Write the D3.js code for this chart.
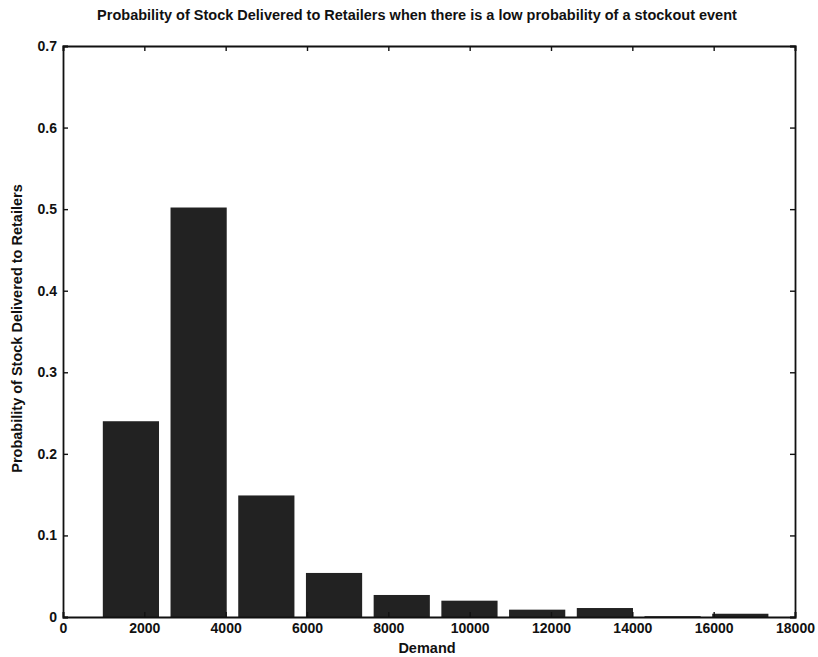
<!DOCTYPE html>
<html>
<head>
<meta charset="utf-8">
<script src="https://cdn.jsdelivr.net/npm/d3@7"></script>
<style>
  html, body { margin: 0; padding: 0; background: #fff; }
  svg { display: block; }
  text { font-family: "Liberation Sans", Arial, Helvetica, sans-serif; font-weight: bold; fill: #111; }
</style>
</head>
<body>
<svg id="chart" width="818" height="657"></svg>
<script>
// Demand bin centres and probability of stock delivered per bin
const demandBins = [1670, 3335, 5000, 6665, 8330, 9995, 11660, 13325, 14990, 16655];
const probability = [0.240, 0.502, 0.149, 0.054, 0.027, 0.020, 0.009, 0.011, 0.001, 0.004];
const xTicks = [0, 2000, 4000, 6000, 8000, 10000, 12000, 14000, 16000, 18000];
const yTicks = [0, 0.1, 0.2, 0.3, 0.4, 0.5, 0.6, 0.7];

const titleText = "Probability of Stock Delivered to Retailers when there is a low probability of a stockout event";
const xLabel = "Demand";
const yLabel = "Probability of Stock Delivered to Retailers";

const margin = { left: 63, right: 23, top: 46, bottom: 40 };
const W = 818, H = 657;
const plotW = W - margin.left - margin.right;
const plotH = H - margin.top - margin.bottom;

const svg = d3.select("#chart");
const g = svg.append("g").attr("transform", `translate(${margin.left},${margin.top})`);

const x = d3.scaleLinear().domain([0, 18000]).range([0, plotW]);
const y = d3.scaleLinear().domain([0, 0.7]).range([plotH, 0]);

// bar width as a fraction of bin spacing
const spacing = demandBins[1] - demandBins[0];
const barW = spacing * 0.83;

g.selectAll("rect.bar")
  .data(demandBins.map((d, i) => ({ c: d, v: probability[i] })))
  .join("rect")
  .attr("class", "bar")
  .attr("x", d => x(d.c - barW / 2))
  .attr("width", d => x(d.c + barW / 2) - x(d.c - barW / 2))
  .attr("y", d => y(d.v))
  .attr("height", d => y(0) - y(d.v))
  .attr("fill", "#222");

// axes with inward ticks on all four sides
const tickLen = 5;
const xAxisB = d3.axisBottom(x).tickValues(xTicks).tickSize(-tickLen).tickPadding(6).tickFormat(d3.format("d"));
const xAxisT = d3.axisTop(x).tickValues(xTicks).tickSize(-tickLen).tickFormat("");
const yAxisL = d3.axisLeft(y).tickValues(yTicks).tickSize(-tickLen).tickPadding(6).tickFormat(d => d === 0 ? "0" : d3.format(".1f")(d));
const yAxisR = d3.axisRight(y).tickValues(yTicks).tickSize(-tickLen).tickFormat("");

function style(sel) {
  sel.select(".domain").attr("stroke", "#111").attr("stroke-width", 1.8);
  sel.selectAll(".tick line").attr("stroke", "#111").attr("stroke-width", 1.4);
  sel.selectAll(".tick text").style("font-size", "14px").style("font-weight", "bold").attr("fill", "#111");
}

g.append("g").attr("transform", `translate(0,${plotH})`).call(xAxisB).call(style);
g.append("g").call(xAxisT).call(style);
g.append("g").call(yAxisL).call(style);
g.append("g").attr("transform", `translate(${plotW},0)`).call(yAxisR).call(style);

// title and axis labels
svg.append("text")
  .attr("x", margin.left + plotW / 2 - 12)
  .attr("y", 20)
  .attr("text-anchor", "middle")
  .style("font-size", "14.5px")
  .text(titleText);

svg.append("text")
  .attr("x", margin.left + plotW / 2 - 2)
  .attr("y", 653)
  .attr("text-anchor", "middle")
  .style("font-size", "14.5px")
  .text(xLabel);

svg.append("text")
  .attr("transform", `translate(22,${margin.top + plotH / 2 - 3}) rotate(-90)`)
  .attr("text-anchor", "middle")
  .style("font-size", "14.5px")
  .text(yLabel);
</script>
</body>
</html>
